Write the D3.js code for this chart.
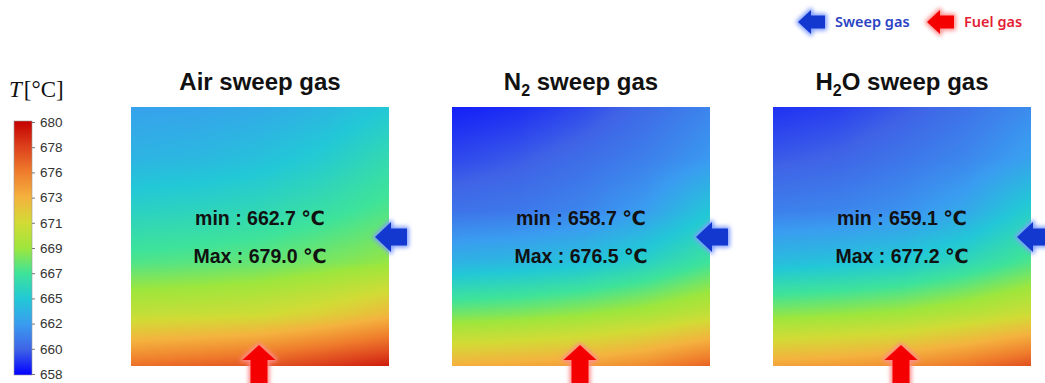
<!DOCTYPE html>
<html>
<head>
<meta charset="utf-8">
<script src="https://cdn.jsdelivr.net/npm/d3@7"></script>
<style>
  body { margin: 0; background: #fff; }
  svg { display: block; }
</style>
</head>
<body>
<svg id="chart" width="1045" height="383"></svg>
<script>
// ---- data ----------------------------------------------------------------
const panelKeys = ["Air", "N2", "H2O"];
// title pieces: [text, isSubscript]
const titleParts = [
  [["Air sweep gas", false]],
  [["N", false], ["2", true], [" sweep gas", false]],
  [["H", false], ["2", true], ["O sweep gas", false]]
];
const minTemps = [662.7, 658.7, 659.1];
const maxTemps = [679.0, 676.5, 677.2];

// temperature samples (°C), rows top -> bottom, columns left -> right
const airField = [
  [662.7, 662.8, 663.1, 663.7, 664.6],
  [663.6, 663.8, 664.2, 664.9, 666.0],
  [665.3, 665.5, 665.8, 666.4, 667.2],
  [667.2, 667.4, 667.7, 668.2, 668.8],
  [670.5, 670.7, 671.0, 671.8, 673.0],
  [676.0, 676.5, 677.0, 678.0, 679.0]
];
const n2Field = [
  [658.7, 659.0, 659.6, 660.5, 661.5],
  [659.6, 660.0, 660.6, 661.3, 662.3],
  [660.8, 661.0, 661.5, 662.5, 664.5],
  [663.5, 663.8, 664.3, 665.3, 666.8],
  [668.0, 668.3, 668.8, 669.5, 670.5],
  [673.5, 673.8, 674.2, 675.0, 676.5]
];
const h2oField = [
  [659.1, 659.4, 660.0, 660.8, 661.8],
  [660.0, 660.3, 660.9, 661.6, 662.7],
  [661.3, 661.5, 662.0, 663.0, 665.0],
  [664.0, 664.3, 664.8, 665.8, 667.2],
  [668.5, 668.8, 669.2, 670.0, 671.0],
  [674.0, 674.3, 674.8, 675.8, 677.2]
];
const fields = [airField, n2Field, h2oField];

// colour bar levels and their labels
const levelTemps = [658, 660.2, 662.4, 664.6, 666.8, 669, 671.2, 673.4, 675.6, 677.8, 680];
const levelColors = ["#0000ff", "#3f63e6", "#3a9cf0", "#22c8d6", "#3ee39a", "#9ee63c",
                     "#d2db36", "#f4b23e", "#ef7c2c", "#dc401c", "#c40000"];
const tickLabels = ["658", "660", "662", "665", "667", "669", "671", "673", "676", "678", "680"];

const legendItems = [
  { label: "Sweep gas", fill: "#1238d0", glow: "#7f9cff", text: "#2b43c4" },
  { label: "Fuel gas",  fill: "#f50000", glow: "#ff8c8c", text: "#e31e36" }
];

// ---- layout --------------------------------------------------------------
const svg = d3.select("#chart");
const sans = "'Liberation Sans', Arial, 'DejaVu Sans', sans-serif";
const panelW = 258, panelH = 259, panelTop = 107;
const panelX = d3.scalePoint().domain(panelKeys).range([131, 773]);

const color = d3.scaleLinear().domain(levelTemps).range(levelColors)
  .interpolate(d3.interpolateRgb).clamp(true);

// glow filter for the flow arrows
const defs = svg.append("defs");
const glow = defs.append("filter").attr("id", "glow")
  .attr("x", "-50%").attr("y", "-50%").attr("width", "200%").attr("height", "200%");
glow.append("feGaussianBlur").attr("stdDeviation", 2.2);

// arrow outline generators
function leftArrow(tipX, cy, len, headLen, headHalf, shaftHalf) {
  return `M${tipX},${cy} L${tipX + headLen},${cy - headHalf} L${tipX + headLen},${cy - shaftHalf}
          L${tipX + len},${cy - shaftHalf} L${tipX + len},${cy + shaftHalf}
          L${tipX + headLen},${cy + shaftHalf} L${tipX + headLen},${cy + headHalf} Z`;
}
function upArrow(cx, tipY, len, headLen, headHalf, shaftHalf) {
  return `M${cx},${tipY} L${cx + headHalf},${tipY + headLen} L${cx + shaftHalf},${tipY + headLen}
          L${cx + shaftHalf},${tipY + len} L${cx - shaftHalf},${tipY + len}
          L${cx - shaftHalf},${tipY + headLen} L${cx - headHalf},${tipY + headLen} Z`;
}
function drawArrow(g, d, item) {
  g.append("path").attr("d", d).attr("fill", item.glow).attr("stroke", item.glow)
    .attr("stroke-width", 4).attr("stroke-linejoin", "round").attr("filter", "url(#glow)");
  g.append("path").attr("d", d).attr("fill", item.fill);
}

// render a temperature field to an image via bilinear sampling
function fieldImage(grid, w, h) {
  const rows = grid.length, cols = grid[0].length;
  const canvas = document.createElement("canvas");
  canvas.width = w; canvas.height = h;
  const ctx = canvas.getContext("2d");
  const img = ctx.createImageData(w, h);
  const gx = d3.scaleLinear().domain([0, w - 1]).range([0, cols - 1]);
  const gy = d3.scaleLinear().domain([0, h - 1]).range([0, rows - 1]);
  for (let py = 0; py < h; py++) {
    const v = gy(py), r0 = Math.min(Math.floor(v), rows - 2), fy = v - r0;
    for (let px = 0; px < w; px++) {
      const u = gx(px), c0 = Math.min(Math.floor(u), cols - 2), fx = u - c0;
      const top = grid[r0][c0] * (1 - fx) + grid[r0][c0 + 1] * fx;
      const bot = grid[r0 + 1][c0] * (1 - fx) + grid[r0 + 1][c0 + 1] * fx;
      const c = d3.rgb(color(top * (1 - fy) + bot * fy));
      const i = (py * w + px) * 4;
      img.data[i] = c.r; img.data[i + 1] = c.g; img.data[i + 2] = c.b; img.data[i + 3] = 255;
    }
  }
  ctx.putImageData(img, 0, 0);
  return canvas.toDataURL();
}

// ---- panels --------------------------------------------------------------
panelKeys.forEach((key, i) => {
  const x0 = panelX(key);
  const g = svg.append("g").attr("class", "panel");
  const cx = x0 + panelW / 2;

  g.append("image").attr("x", x0).attr("y", panelTop)
    .attr("width", panelW).attr("height", panelH)
    .attr("preserveAspectRatio", "none")
    .attr("href", fieldImage(fields[i], panelW, panelH));

  const title = g.append("text").attr("x", cx).attr("y", 90)
    .attr("text-anchor", "middle").attr("font-family", sans)
    .attr("font-weight", "bold").attr("font-size", 24).attr("fill", "#111");
  titleParts[i].forEach(([t, sub]) => {
    const ts = title.append("tspan").text(t);
    if (sub) ts.attr("font-size", 16).attr("dy", 6);
    else if (title.selectAll("tspan").size() > 1) ts.attr("dy", -6);
  });

  g.append("text").attr("x", cx).attr("y", 225).attr("text-anchor", "middle")
    .attr("font-family", sans).attr("font-weight", "bold").attr("font-size", 19.5)
    .attr("fill", "#111").text(`min : ${minTemps[i].toFixed(1)} ℃`);
  g.append("text").attr("x", cx).attr("y", 263).attr("text-anchor", "middle")
    .attr("font-family", sans).attr("font-weight", "bold").attr("font-size", 19.5)
    .attr("fill", "#111").text(`Max : ${maxTemps[i].toFixed(1)} ℃`);

  // sweep gas enters from the right edge, fuel gas from the bottom edge
  const right = x0 + panelW, bottom = panelTop + panelH;
  drawArrow(g, leftArrow(right - 14, 237, 32, 16, 15, 8.5), legendItems[0]);
  drawArrow(g, upArrow(cx - 1, bottom - 21, 45, 15, 16.5, 8.5), legendItems[1]);
});

// ---- colour bar ----------------------------------------------------------
const barX = 14, barW = 18, barTop = 121, barBottom = 375;
const barY = d3.scaleLinear().domain([658, 680]).range([barBottom - 1, barTop + 1]);

const grad = defs.append("linearGradient").attr("id", "cbar")
  .attr("x1", 0).attr("y1", 1).attr("x2", 0).attr("y2", 0);
grad.selectAll("stop").data(levelTemps).join("stop")
  .attr("offset", (d) => (d - 658) / (680 - 658))
  .attr("stop-color", (d, k) => levelColors[k]);

const cb = svg.append("g").attr("class", "colorbar");
cb.append("rect").attr("x", barX).attr("y", barTop).attr("width", barW)
  .attr("height", barBottom - barTop).attr("fill", "url(#cbar)")
  .attr("stroke", "#9a9a9a").attr("stroke-width", 0.6);

const axis = d3.axisRight(barY).tickValues(levelTemps)
  .tickFormat((d, k) => tickLabels[k]).tickSize(3).tickPadding(5);
const ax = cb.append("g").attr("transform", `translate(${barX + barW},0)`).call(axis);
ax.select(".domain").remove();
ax.selectAll(".tick line").attr("stroke", "#777");
ax.selectAll(".tick text").attr("font-family", sans).attr("font-size", 13.5).attr("fill", "#333");

const tl = svg.append("text").attr("x", 9).attr("y", 97)
  .attr("font-family", "'Liberation Serif', 'Times New Roman', serif")
  .attr("font-size", 23).attr("fill", "#111");
tl.append("tspan").attr("font-style", "italic").text("T");
tl.append("tspan").attr("dx", 2).text("[°C]");

// ---- legend --------------------------------------------------------------
const legendX = [798, 927];
legendItems.forEach((item, k) => {
  const g = svg.append("g").attr("class", "legend-item");
  drawArrow(g, leftArrow(legendX[k], 22, 27, 13, 12, 6.5), item);
  g.append("text").attr("x", legendX[k] + 37).attr("y", 27)
    .attr("font-family", "'Noto Sans', 'Open Sans', sans-serif").attr("font-weight", 600)
    .attr("font-size", 14.5).attr("fill", item.text).text(item.label);
});
</script>
</body>
</html>
